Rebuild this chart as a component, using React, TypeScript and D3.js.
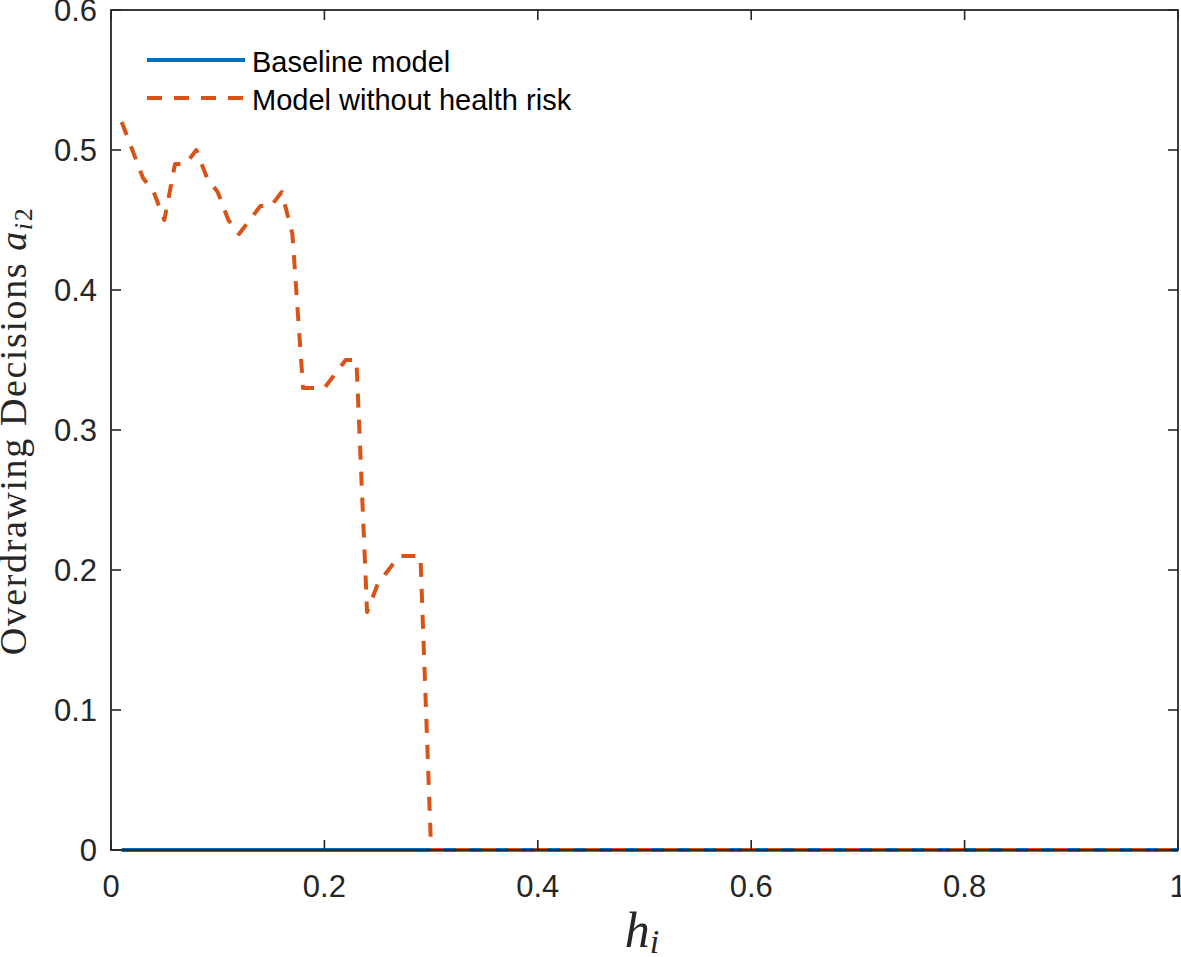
import React from "react";
import * as d3 from "d3";

// ---- Data ----
const hNoRisk: number[] = [
  0.01, 0.02, 0.03, 0.04, 0.05, 0.06, 0.07, 0.08, 0.09, 0.10,
  0.11, 0.12, 0.13, 0.14, 0.15, 0.16, 0.17, 0.18, 0.19, 0.20,
  0.21, 0.22, 0.23, 0.24, 0.25, 0.26, 0.27, 0.28, 0.29, 0.30, 1.00,
];
const aNoRisk: number[] = [
  0.52, 0.50, 0.48, 0.47, 0.45, 0.49, 0.49, 0.50, 0.48, 0.47,
  0.45, 0.44, 0.45, 0.46, 0.46, 0.47, 0.44, 0.33, 0.33, 0.33,
  0.34, 0.35, 0.35, 0.17, 0.19, 0.20, 0.21, 0.21, 0.21, 0.00, 0.00,
];
const hBaseline: number[] = [0.01, 1.0];
const aBaseline: number[] = [0, 0];

const xTicks: number[] = [0, 0.2, 0.4, 0.6, 0.8, 1];
const yTicks: number[] = [0, 0.1, 0.2, 0.3, 0.4, 0.5, 0.6];
const xTickLabels: string[] = ["0", "0.2", "0.4", "0.6", "0.8", "1"];
const yTickLabels: string[] = ["0", "0.1", "0.2", "0.3", "0.4", "0.5", "0.6"];
const legendLabels: string[] = ["Baseline model", "Model without health risk"];

const W = 1181;
const H = 957;
const L = 111, R = 1178, T = 10, B = 850;
const BLUE = "#0072BD";
const ORANGE = "#D95319";
const AX = "#262626";
const SANS = "'Liberation Sans', Arial, Helvetica, sans-serif";
const SERIF = "'Liberation Serif', 'Times New Roman', serif";
const LW = 4;

export default function App() {
  const x = d3.scaleLinear().domain([0, 1]).range([L, R]);
  const y = d3.scaleLinear().domain([0, 0.6]).range([B, T]);
  const line = d3
    .line<[number, number]>()
    .x((d) => x(d[0]))
    .y((d) => y(d[1]));
  const basePts = hBaseline.map((h, i) => [h, aBaseline[i]] as [number, number]);
  const riskPts = hNoRisk.map((h, i) => [h, aNoRisk[i]] as [number, number]);
  const tickLen = 10;

  return (
    <svg
      width={W}
      height={H}
      style={{ position: "absolute", left: 0, top: 0, background: "#fff" }}
    >
      <rect x={0} y={0} width={W} height={H} fill="#fff" />
      {/* lines */}
      <path d={line(basePts) || ""} fill="none" stroke={BLUE} strokeWidth={LW} />
      <path
        d={line(riskPts) || ""}
        fill="none"
        stroke={ORANGE}
        strokeWidth={LW}
        strokeDasharray="14,12"
        strokeLinejoin="round"
      />
      {/* axes box */}
      <rect x={L} y={T} width={R - L} height={B - T} fill="none" stroke={AX} strokeWidth={1.8} />
      {xTicks.map((t, i) => (
        <g key={"xt" + i}>
          <line x1={x(t)} x2={x(t)} y1={B} y2={B - tickLen} stroke={AX} strokeWidth={1.6} />
          <line x1={x(t)} x2={x(t)} y1={T} y2={T + tickLen} stroke={AX} strokeWidth={1.6} />
          <text
            x={x(t)}
            y={897}
            textAnchor="middle"
            fontFamily={SANS}
            fontSize={31}
            fill={AX}
          >
            {xTickLabels[i]}
          </text>
        </g>
      ))}
      {yTicks.map((t, i) => (
        <g key={"yt" + i}>
          <line x1={L} x2={L + tickLen} y1={y(t)} y2={y(t)} stroke={AX} strokeWidth={1.6} />
          <line x1={R} x2={R - tickLen} y1={y(t)} y2={y(t)} stroke={AX} strokeWidth={1.6} />
          <text
            x={97}
            y={y(t) + 11}
            textAnchor="end"
            fontFamily={SANS}
            fontSize={31}
            fill={AX}
          >
            {yTickLabels[i]}
          </text>
        </g>
      ))}
      {/* legend */}
      <line x1={147} x2={245} y1={60} y2={60} stroke={BLUE} strokeWidth={LW} />
      <line
        x1={147}
        x2={245}
        y1={98}
        y2={98}
        stroke={ORANGE}
        strokeWidth={LW}
        strokeDasharray="15,12"
      />
      <text x={252} y={72} fontFamily={SANS} fontSize={29} fill="#000">
        {legendLabels[0]}
      </text>
      <text x={252} y={110} fontFamily={SANS} fontSize={29} fill="#000">
        {legendLabels[1]}
      </text>
      {/* y label */}
      <text
        transform="translate(26,431) rotate(-90)"
        textAnchor="middle"
        fontFamily={SERIF}
        fontSize={38}
        letterSpacing={1.6}
        fill={AX}
      >
        Overdrawing Decisions{" "}
        <tspan fontStyle="italic">a</tspan>
        <tspan fontSize={26} dy={6} fontStyle="italic">i</tspan>
        <tspan fontSize={26}>2</tspan>
      </text>
      {/* x label */}
      <text x={642} y={947} textAnchor="middle" fontFamily={SERIF} fontSize={50} fill={AX}>
        <tspan fontStyle="italic">h</tspan>
        <tspan fontSize={34} dy={6} fontStyle="italic">i</tspan>
      </text>
    </svg>
  );
}
